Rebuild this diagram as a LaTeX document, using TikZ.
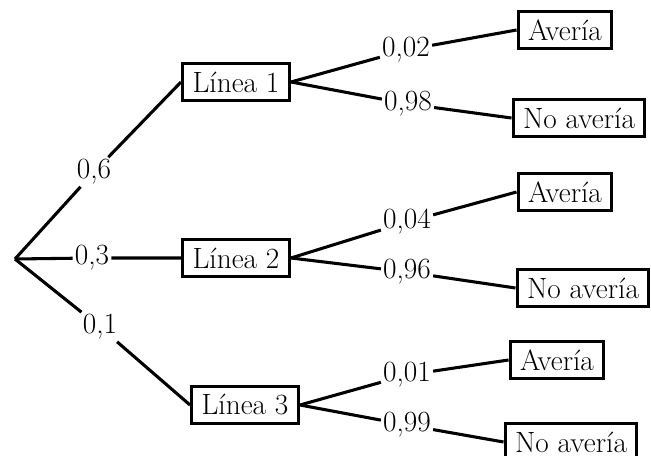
\documentclass[tikz,border=0pt]{standalone}
\begin{document}
\begin{tikzpicture}[x=0.75pt,y=-0.75pt,
  box/.style={draw,line width=2.3pt,fill=white,inner xsep=7.5pt,inner ysep=0pt,minimum height=28pt,font=\fontsize{22}{24}\selectfont},
  prob/.style={inner sep=1.5pt,font=\fontsize{22}{24}\selectfont},
  branch/.style={line width=2.3pt}]
\useasboundingbox[fill=white] (0,0) rectangle (651,456);
\coordinate (root) at (15,259);
\node[box] (L1) at (236,82) {Línea 1};
\node[box] (L2) at (236,258) {Línea 2};
\node[box] (L3) at (245,405) {Línea 3};
\node[prob] (p06) at (94,172) {0,6};
\node[prob] (p03) at (92,258) {0,3};
\node[prob] (p01) at (100,327) {0,1};
\node[box] (A1) at (565,30) {Avería};
\node[box] (N1) at (579,118) {No avería};
\node[box] (A2) at (565,192) {Avería};
\node[box] (N2) at (583,288) {No avería};
\node[box] (A3) at (557,360) {Avería};
\node[box] (N3) at (571,442) {No avería};
\node[prob] (p02) at (406,50) {0,02};
\node[prob] (p98) at (408,104) {0,98};
\node[prob] (p04) at (407,222) {0,04};
\node[prob] (p96) at (407,272) {0,96};
\node[prob] (p001) at (407,375) {0,01};
\node[prob] (p99) at (407,425) {0,99};
\draw[branch] (root) -- (p06) -- (L1.west);
\draw[branch] (root) -- (p03) -- (L2.west);
\draw[branch] (root) -- (p01) -- (L3.west);
\draw[branch] (L1.east) -- (p02) -- (A1.west);
\draw[branch] (L1.east) -- (p98) -- (N1.west);
\draw[branch] (L2.east) -- (p04) -- (A2.west);
\draw[branch] (L2.east) -- (p96) -- (N2.west);
\draw[branch] (L3.east) -- (p001) -- (A3.west);
\draw[branch] (L3.east) -- (p99) -- (N3.west);
\end{tikzpicture}
\end{document}
